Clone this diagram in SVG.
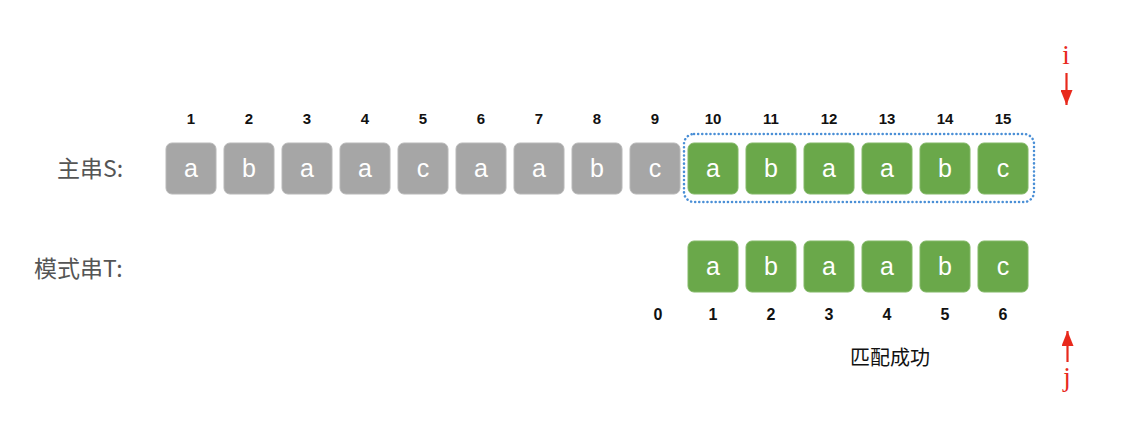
<svg xmlns="http://www.w3.org/2000/svg" width="1142" height="439" viewBox="0 0 1142 439">
<defs>
<style>
.bx{stroke-width:1;}
.g{fill:#a6a6a6;stroke:#b8b8b8;}
.v{fill:#6aa84a;stroke:#82b866;}
.ch{font-family:"Liberation Sans",Arial,sans-serif;font-size:25px;fill:#ffffff;text-anchor:middle;}
.n{font-family:"Liberation Sans",Arial,sans-serif;font-weight:bold;font-size:15px;fill:#111;text-anchor:middle;}
.n2{font-family:"Liberation Sans",Arial,sans-serif;font-weight:bold;font-size:16px;fill:#111;text-anchor:middle;}
.lbl{font-family:"Noto Sans CJK SC","Liberation Sans",sans-serif;font-size:23px;fill:#555;}
.red{font-family:"Liberation Serif","Times New Roman",serif;font-size:27px;fill:#e8291c;text-anchor:middle;}
</style>
<marker id="ah" markerWidth="15" markerHeight="12" refX="15" refY="6" orient="auto" markerUnits="userSpaceOnUse" viewBox="0 0 15 12"><path d="M0,0 L15,6 L0,12 z" fill="#e8291c"/></marker>
</defs>
<rect width="1142" height="439" fill="#ffffff"/>

<g id="labels">
<text class="lbl" x="57" y="177">主串S:</text>
<text class="lbl" x="34" y="277">模式串T:</text>
</g>

<g id="S">
<g id="s1"><rect class="bx g" x="166" y="143" width="50" height="51" rx="6"/><text class="ch" x="191" y="177">a</text><text class="n" x="191" y="124">1</text></g>
<g id="s2"><rect class="bx g" x="224" y="143" width="50" height="51" rx="6"/><text class="ch" x="249" y="177">b</text><text class="n" x="249" y="124">2</text></g>
<g id="s3"><rect class="bx g" x="282" y="143" width="50" height="51" rx="6"/><text class="ch" x="307" y="177">a</text><text class="n" x="307" y="124">3</text></g>
<g id="s4"><rect class="bx g" x="340" y="143" width="50" height="51" rx="6"/><text class="ch" x="365" y="177">a</text><text class="n" x="365" y="124">4</text></g>
<g id="s5"><rect class="bx g" x="398" y="143" width="50" height="51" rx="6"/><text class="ch" x="423" y="177">c</text><text class="n" x="423" y="124">5</text></g>
<g id="s6"><rect class="bx g" x="456" y="143" width="50" height="51" rx="6"/><text class="ch" x="481" y="177">a</text><text class="n" x="481" y="124">6</text></g>
<g id="s7"><rect class="bx g" x="514" y="143" width="50" height="51" rx="6"/><text class="ch" x="539" y="177">a</text><text class="n" x="539" y="124">7</text></g>
<g id="s8"><rect class="bx g" x="572" y="143" width="50" height="51" rx="6"/><text class="ch" x="597" y="177">b</text><text class="n" x="597" y="124">8</text></g>
<g id="s9"><rect class="bx g" x="630" y="143" width="50" height="51" rx="6"/><text class="ch" x="655" y="177">c</text><text class="n" x="655" y="124">9</text></g>
<g id="s10"><rect class="bx v" x="688" y="143" width="50" height="51" rx="6"/><text class="ch" x="713" y="177">a</text><text class="n" x="713" y="124">10</text></g>
<g id="s11"><rect class="bx v" x="746" y="143" width="50" height="51" rx="6"/><text class="ch" x="771" y="177">b</text><text class="n" x="771" y="124">11</text></g>
<g id="s12"><rect class="bx v" x="804" y="143" width="50" height="51" rx="6"/><text class="ch" x="829" y="177">a</text><text class="n" x="829" y="124">12</text></g>
<g id="s13"><rect class="bx v" x="862" y="143" width="50" height="51" rx="6"/><text class="ch" x="887" y="177">a</text><text class="n" x="887" y="124">13</text></g>
<g id="s14"><rect class="bx v" x="920" y="143" width="50" height="51" rx="6"/><text class="ch" x="945" y="177">b</text><text class="n" x="945" y="124">14</text></g>
<g id="s15"><rect class="bx v" x="978" y="143" width="50" height="51" rx="6"/><text class="ch" x="1003" y="177">c</text><text class="n" x="1003" y="124">15</text></g>
</g>

<g id="match-box">
<rect x="684" y="134" width="350" height="68" rx="10" fill="none" stroke="#4a8fd6" stroke-width="2.5" stroke-dasharray="0.1 4" stroke-linecap="round"/>
</g>

<g id="T">
<text class="n2" x="658" y="320">0</text>
<g id="t1"><rect class="bx v" x="688" y="241" width="50" height="51" rx="6"/><text class="ch" x="713" y="275">a</text><text class="n2" x="713" y="320">1</text></g>
<g id="t2"><rect class="bx v" x="746" y="241" width="50" height="51" rx="6"/><text class="ch" x="771" y="275">b</text><text class="n2" x="771" y="320">2</text></g>
<g id="t3"><rect class="bx v" x="804" y="241" width="50" height="51" rx="6"/><text class="ch" x="829" y="275">a</text><text class="n2" x="829" y="320">3</text></g>
<g id="t4"><rect class="bx v" x="862" y="241" width="50" height="51" rx="6"/><text class="ch" x="887" y="275">a</text><text class="n2" x="887" y="320">4</text></g>
<g id="t5"><rect class="bx v" x="920" y="241" width="50" height="51" rx="6"/><text class="ch" x="945" y="275">b</text><text class="n2" x="945" y="320">5</text></g>
<g id="t6"><rect class="bx v" x="978" y="241" width="50" height="51" rx="6"/><text class="ch" x="1003" y="275">c</text><text class="n2" x="1003" y="320">6</text></g>
</g>

<g id="result">
<text x="850" y="365" font-family="Noto Sans CJK SC,Liberation Sans,sans-serif" font-size="20" fill="#111">匹配成功</text>
</g>

<g id="pointers">
<text class="red" x="1066" y="64">i</text>
<text class="red" x="1067" y="386">j</text>
</g>

<g id="connectors">
<line x1="1066.5" y1="73" x2="1066.5" y2="105" stroke="#e8291c" stroke-width="2.2" marker-end="url(#ah)"/>
<line x1="1067.5" y1="362" x2="1067.5" y2="331" stroke="#e8291c" stroke-width="2.2" marker-end="url(#ah)"/>
</g>
</svg>
